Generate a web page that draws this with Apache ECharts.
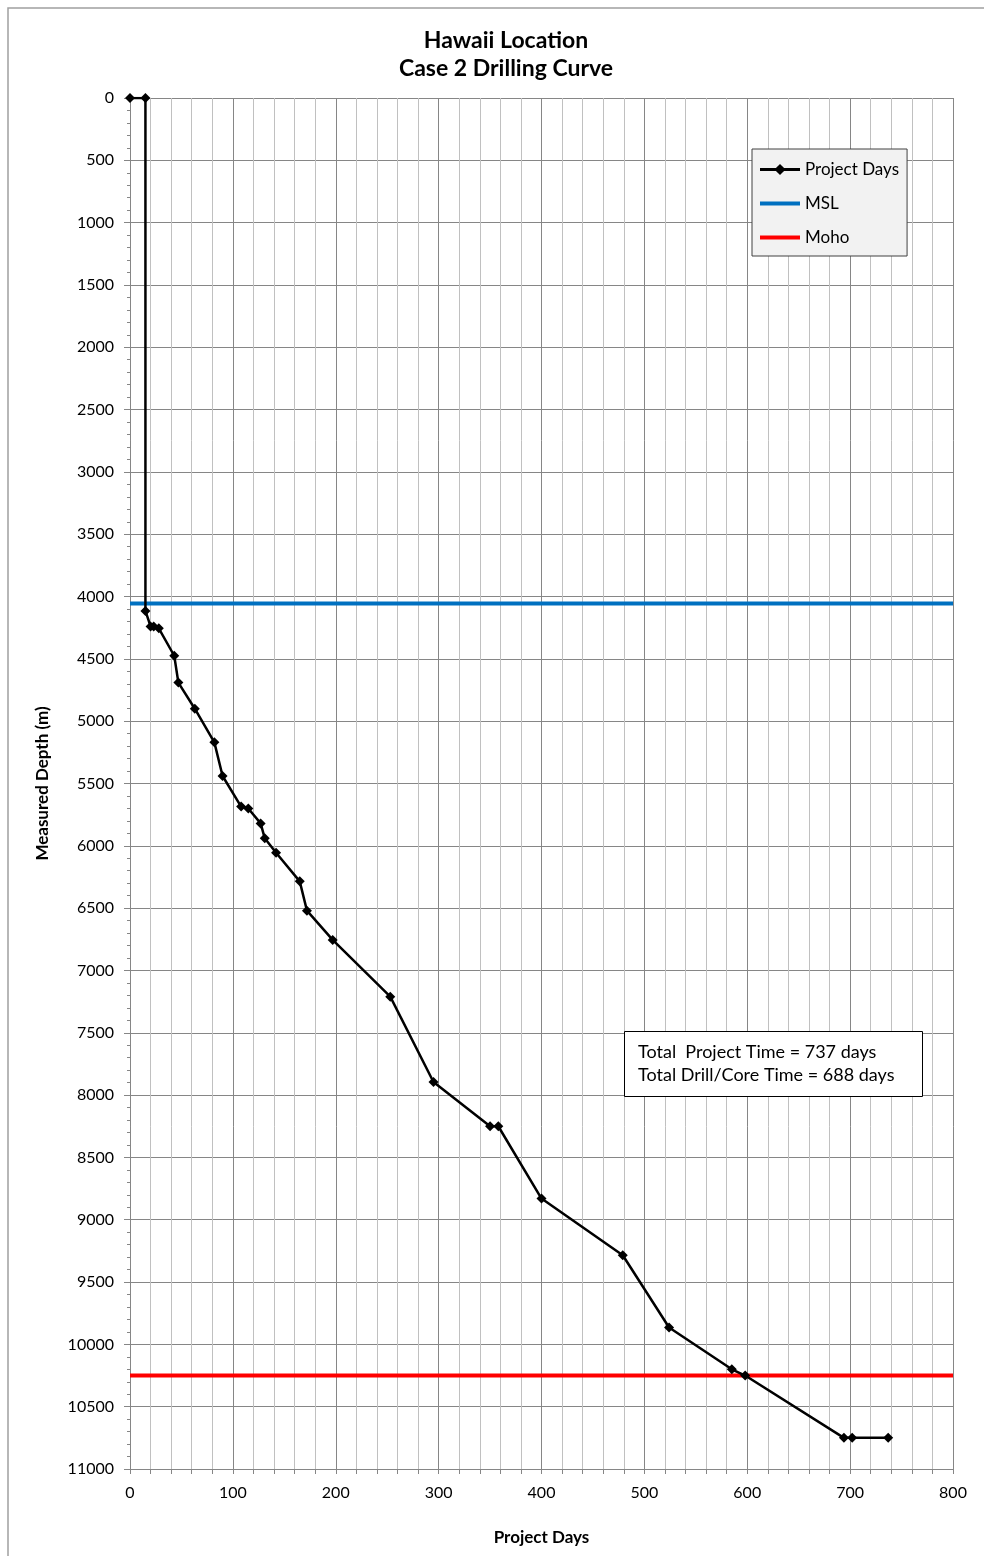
<!DOCTYPE html>
<html>
<head>
<meta charset="utf-8">
<script src="https://cdn.jsdelivr.net/npm/echarts@6/dist/echarts.min.js"></script>
<style>
  html, body { margin: 0; padding: 0; background: #fff; }
  #chart { width: 984px; height: 1556px; }
</style>
</head>
<body>
<div id="chart"></div>
<script>
// drilling curve: project day vs measured depth (m)
const projectDays = [0, 15, 15, 20, 23, 28, 43, 47, 63, 82, 90, 108, 115, 127, 131, 142, 165, 172, 197, 253, 295, 350, 358, 400, 479, 524, 585, 598, 694, 702, 737];
const depths = [0, 0, 4115, 4240, 4240, 4255, 4475, 4690, 4900, 5170, 5440, 5685, 5700, 5820, 5940, 6055, 6285, 6520, 6755, 7210, 7895, 8250, 8250, 8830, 9285, 9865, 10200, 10250, 10750, 10750, 10750];

const lineDays = [0, 800];
const mslDepth = 4055;
const mohoDepth = 10250;

const noteLines = ['Total  Project Time = 737 days', 'Total Drill/Core Time = 688 days'];

const font = 'Lato, "Open Sans", sans-serif';

const chart = echarts.init(document.getElementById('chart'));

const option = {
  animation: false,
  backgroundColor: '#fff',
  textStyle: { fontFamily: font },
  title: {
    text: 'Hawaii Location\nCase 2 Drilling Curve',
    left: 501,
    top: 22,
    textAlign: 'center',
    textStyle: { fontFamily: font, fontSize: 23, fontWeight: 'bold', color: '#000', lineHeight: 28 }
  },
  grid: { left: 130, right: 31, top: 98, bottom: 87 },
  legend: {
    orient: 'vertical',
    left: 752,
    top: 149,
    padding: [12, 8, 10, 6],
    itemGap: 17,
    itemWidth: 40,
    itemHeight: 14,
    backgroundColor: '#f2f2f2',
    borderColor: '#404040',
    borderWidth: 1,
    borderRadius: 0,
    textStyle: { fontFamily: font, fontSize: 17, color: '#000' },
    data: [
      { name: 'Project Days', lineStyle: { width: 3 } },
      { name: 'MSL', itemStyle: { opacity: 0 }, lineStyle: { width: 4 } },
      { name: 'Moho', itemStyle: { opacity: 0 }, lineStyle: { width: 4 } }
    ]
  },
  xAxis: {
    type: 'value',
    min: 0,
    max: 800,
    interval: 100,
    name: 'Project Days',
    nameLocation: 'middle',
    nameGap: 60,
    nameTextStyle: { fontFamily: font, fontSize: 17, fontWeight: 'bold', color: '#000' },
    axisLine: { show: true, onZero: false, lineStyle: { color: '#868686', width: 1 } },
    axisTick: { show: true, length: 5, lineStyle: { color: '#868686' } },
    minorTick: { show: true, splitNumber: 5, length: 5, lineStyle: { color: '#868686' } },
    axisLabel: { margin: 16, fontFamily: font, fontSize: 16, color: '#000' },
    splitLine: { show: true, lineStyle: { color: '#868686', width: 1 } },
    minorSplitLine: { show: true, lineStyle: { color: '#c0c0c0', width: 1 } }
  },
  yAxis: {
    type: 'value',
    inverse: true,
    min: 0,
    max: 11000,
    interval: 500,
    name: 'Measured Depth (m)',
    nameLocation: 'middle',
    nameGap: 79,
    nameTextStyle: { fontFamily: font, fontSize: 17, fontWeight: 'bold', color: '#000' },
    axisLine: { show: true, onZero: false, lineStyle: { color: '#868686', width: 1 } },
    axisTick: { show: true, length: 6, lineStyle: { color: '#868686' } },
    minorTick: { show: true, splitNumber: 5, length: 3, lineStyle: { color: '#868686' } },
    axisLabel: { margin: 16, fontFamily: font, fontSize: 16, color: '#000', formatter: v => String(v) },
    splitLine: { show: true, lineStyle: { color: '#868686', width: 1 } }
  },
  series: [
    {
      name: 'MSL',
      type: 'line',
      data: lineDays.map(d => [d, mslDepth]),
      symbol: 'none',
      lineStyle: { color: '#0070c0', width: 4 },
      itemStyle: { color: '#0070c0' },
      z: 2
    },
    {
      name: 'Moho',
      type: 'line',
      data: lineDays.map(d => [d, mohoDepth]),
      symbol: 'none',
      lineStyle: { color: '#ff0000', width: 4 },
      itemStyle: { color: '#ff0000' },
      z: 2
    },
    {
      name: 'Project Days',
      type: 'line',
      data: projectDays.map((d, i) => [d, depths[i]]),
      symbol: 'diamond',
      symbolSize: 10,
      lineStyle: { color: '#000', width: 2.5 },
      itemStyle: { color: '#000' },
      z: 3
    }
  ],
  graphic: [
    {
      type: 'rect',
      shape: { x: 8, y: 8, width: 1000, height: 1600 },
      style: { fill: null, stroke: '#a0a0a0', lineWidth: 1.5 },
      silent: true,
      z: 0
    },
    {
      type: 'rect',
      shape: { x: 624.5, y: 1031.5, width: 298, height: 65 },
      style: { fill: '#fff', stroke: '#000', lineWidth: 1 },
      z: 100
    },
    {
      type: 'text',
      x: 638,
      y: 1052,
      style: { text: noteLines[0], fontFamily: font, fontSize: 18, fill: '#000', verticalAlign: 'middle' },
      z: 101
    },
    {
      type: 'text',
      x: 638,
      y: 1075,
      style: { text: noteLines[1], fontFamily: font, fontSize: 18, fill: '#000', verticalAlign: 'middle' },
      z: 101
    }
  ]
};

chart.setOption(option);
</script>
</body>
</html>
